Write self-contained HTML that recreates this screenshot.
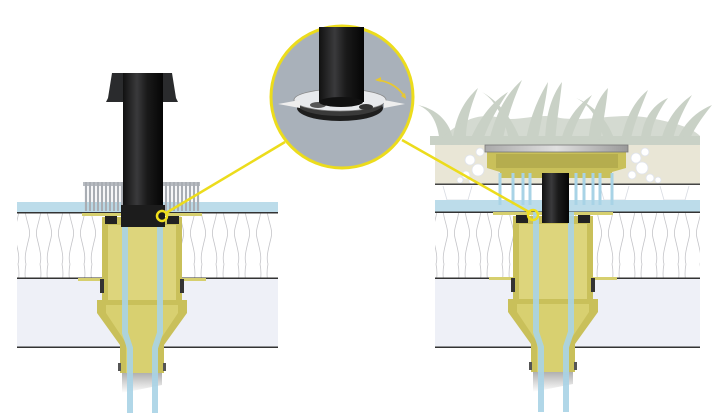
<!DOCTYPE html>
<html><head><meta charset="utf-8"><style>
html,body{margin:0;padding:0;background:#fff;width:728px;height:413px;overflow:hidden}
svg{display:block}
</style></head><body>
<svg width="728" height="413" viewBox="0 0 728 413" xmlns="http://www.w3.org/2000/svg">
<defs>
<linearGradient id="pipe" x1="0" x2="1"><stop offset="0" stop-color="#111"/><stop offset="0.35" stop-color="#3a3a3c"/><stop offset="0.6" stop-color="#1a1a1a"/><stop offset="1" stop-color="#050505"/></linearGradient>
<linearGradient id="grey" x1="0" x2="1"><stop offset="0" stop-color="#aaa"/><stop offset="0.5" stop-color="#e0e0e0"/><stop offset="1" stop-color="#999"/></linearGradient>
<linearGradient id="fade" x1="0" y1="0" x2="0" y2="1"><stop offset="0" stop-color="#b0b0b0"/><stop offset="1" stop-color="#fff"/></linearGradient>
<pattern id="ins" width="22" height="66" patternUnits="userSpaceOnUse">
<path d="M4 0 C0 20,10 28,7 40 C4 52,2 60,4 66 M18 0 C22 20,12 28,15 40 C18 52,20 60,18 66" fill="none" stroke="#c4c4c8" stroke-width="0.8"/>
</pattern>
<g id="drain">
<rect x="-60" y="0" width="120" height="3" fill="#d6cf6e"/>
<rect x="-64" y="65" width="128" height="3" fill="#d6cf6e"/>
<path d="M-40 4 L40 4 L40 89 L-40 89 Z" fill="#c9c05a"/>
<rect x="-34" y="12" width="68" height="77" fill="#ddd57c"/>
<path d="M-45 87 L45 87 L45 100 L22 132 L22 160 L-22 160 L-22 132 L-45 100 Z" fill="#c9c05a"/>
<path d="M-36 92 L36 92 L36 100 L16 130 L16 160 L-16 160 L-16 130 L-36 100 Z" fill="#d8d070"/>
<rect x="-37" y="3" width="12" height="8" fill="#222"/>
<rect x="25" y="3" width="12" height="8" fill="#222"/>
<rect x="-42" y="66" width="4" height="14" fill="#333"/>
<rect x="38" y="66" width="4" height="14" fill="#333"/>
<rect x="-24" y="150" width="3" height="8" fill="#555"/>
<rect x="21" y="150" width="3" height="8" fill="#555"/>
<path d="M-20 160 L20 160 L20 172 L-20 180 Z" fill="url(#fade)"/>
<path d="M-17 0 L-17 120 L-12 135 L-12 200" stroke="#a8d3e6" stroke-width="6" fill="none" opacity="0.9"/>
<path d="M18 0 L18 120 L13 135 L13 200" stroke="#a8d3e6" stroke-width="6" fill="none" opacity="0.9"/>
</g>
</defs>

<!-- LEFT -->
<rect x="17" y="202" width="261" height="11" fill="#bcdcea"/>
<rect x="17" y="213" width="261" height="65" fill="#fff"/>
<rect x="17" y="213" width="261" height="65" fill="url(#ins)"/>
<rect x="17" y="278" width="261" height="69" fill="#eef0f7"/>
<rect x="17" y="212" width="261" height="1.5" fill="#333"/>
<rect x="17" y="277.5" width="261" height="1.5" fill="#333"/>
<rect x="17" y="346.5" width="261" height="1.5" fill="#333"/>
<rect x="83" y="182" width="117" height="4" fill="#b8bcc2"/>
<g stroke="#a9adb3" stroke-width="2.2">
<path d="M86 182V211M90 182V211M94 182V211M98 182V211M102 182V211M106 182V211M110 182V211M114 182V211M118 182V211M122 182V211M162 182V211M166 182V211M170 182V211M174 182V211M178 182V211M182 182V211M186 182V211M190 182V211M194 182V211M198 182V211"/>
</g>
<use href="#drain" x="142" y="213"/>
<path d="M112 73 L172 73 L176 98 L178 102 L106 102 L108 98 Z" fill="#2a2b2d"/>
<rect x="123" y="73" width="40" height="154" fill="url(#pipe)"/>
<rect x="121" y="205" width="44" height="22" fill="#1c1c1c"/>
<circle cx="162" cy="216" r="5" fill="none" stroke="#f0e01c" stroke-width="2.5"/>
<line x1="166" y1="213" x2="285" y2="142" stroke="#ecdc1c" stroke-width="2.5"/>

<!-- RIGHT -->
<g fill="#c9d1c6">
<path d="M440 145 C438 120,430 110,418 105 C440 110,452 125,454 145Z"/>
<path d="M452 145 C455 115,465 100,478 88 C470 108,465 125,466 145Z"/>
<path d="M468 145 C480 115,495 100,508 92 C495 112,485 130,482 145Z"/>
<path d="M488 145 C495 115,505 95,522 80 C512 102,505 125,502 145Z"/>
<path d="M510 145 C505 118,495 100,482 92 C500 102,515 122,522 145Z"/>
<path d="M525 145 C530 115,540 95,548 82 C546 102,540 125,537 145Z"/>
<path d="M545 145 C545 115,552 95,562 82 C560 102,556 125,555 145Z"/>
<path d="M560 145 C565 120,578 105,592 95 C582 112,572 130,570 145Z"/>
<path d="M588 145 C590 115,598 98,608 88 C606 108,602 128,600 145Z"/>
<path d="M605 145 C600 120,590 105,576 98 C595 106,610 122,616 145Z"/>
<path d="M620 145 C625 118,635 100,648 90 C640 110,632 128,630 145Z"/>
<path d="M640 145 C642 120,652 105,668 98 C656 114,650 130,650 145Z"/>
<path d="M660 145 C665 120,678 105,692 95 C682 112,674 130,672 145Z"/>
<path d="M675 145 C682 125,695 112,712 105 C700 120,690 135,688 145Z"/>
<path d="M430 145 L700 145 L700 136 L430 136Z"/>
<path d="M440 140 C460 120,480 112,500 118 C520 122,540 112,560 118 C590 122,620 112,650 118 C670 122,690 126,700 136 L440 145Z" opacity="0.8"/>
</g>
<rect x="435" y="145" width="265" height="39" fill="#e9e6d6"/>
<g fill="#fff" stroke="#dfe3ec" stroke-width="0.8">
<circle cx="470" cy="160" r="5"/><circle cx="478" cy="170" r="6"/><circle cx="466" cy="175" r="4"/><circle cx="480" cy="152" r="4"/><circle cx="472" cy="181" r="3"/><circle cx="460" cy="180" r="3"/>
<circle cx="636" cy="158" r="5"/><circle cx="642" cy="168" r="6"/><circle cx="632" cy="175" r="4"/><circle cx="645" cy="152" r="4"/><circle cx="650" cy="178" r="4"/><circle cx="658" cy="180" r="3"/>
</g>
<rect x="435" y="184" width="265" height="18" fill="#fff"/>
<rect x="435" y="183.5" width="265" height="1.5" fill="#444"/>
<g fill="none" stroke="#d8dbe2" stroke-width="0.8">
<path d="M443 186 L447 200 L468 200 L472 186"/><path d="M600 186 L604 200 L625 200 L629 186"/><path d="M660 186 L664 200 L685 200 L689 186"/>
</g>
<rect x="435" y="200" width="265" height="12" fill="#bcdcea"/>
<rect x="435" y="212" width="265" height="66" fill="#fff"/>
<rect x="435" y="212" width="265" height="66" fill="url(#ins)"/>
<rect x="435" y="278" width="265" height="69" fill="#eef0f7"/>
<rect x="435" y="211.5" width="265" height="1.5" fill="#333"/>
<rect x="435" y="277.5" width="265" height="1.5" fill="#333"/>
<rect x="435" y="346.5" width="265" height="1.5" fill="#333"/>
<use href="#drain" x="553" y="212"/>
<path d="M487 148 L626 148 L626 168 L612 172 L612 178 L500 178 L500 172 L487 168Z" fill="#c9c05a"/>
<rect x="496" y="154" width="122" height="14" fill="#b5ad4e"/>
<rect x="485" y="145" width="143" height="7" fill="url(#grey)" stroke="#777" stroke-width="0.8"/>
<g stroke="#a8d3e6" stroke-width="3">
<path d="M500 173V205M513 173V205M523 173V205M530 173V205M576 173V205M584 173V205M593 173V205M600 173V205M612 173V205"/>
</g>
<rect x="542" y="173" width="27" height="50" fill="url(#pipe)"/>
<circle cx="533" cy="215" r="5" fill="none" stroke="#f0e01c" stroke-width="2.5"/>
<line x1="529" y1="212" x2="402" y2="140" stroke="#ecdc1c" stroke-width="2.5"/>

<!-- DETAIL CIRCLE -->
<circle cx="342" cy="97" r="71" fill="#a9b1ba" stroke="#ecdc1c" stroke-width="3"/>
<ellipse cx="340" cy="108" rx="43" ry="13" fill="#1e1e1e"/>
<ellipse cx="340" cy="104" rx="43" ry="12" fill="#3a3a3a"/>
<ellipse cx="340" cy="100" rx="46" ry="11" fill="#e7e9ec" stroke="#888" stroke-width="0.8"/>
<path d="M278 104 L300 100 L300 108Z" fill="#eee"/>
<path d="M405 104 L384 100 L384 108Z" fill="#eee"/>
<ellipse cx="318" cy="105" rx="8" ry="3" fill="#555"/>
<ellipse cx="366" cy="107" rx="7" ry="3" fill="#333"/>
<rect x="319" y="27" width="45" height="75" fill="url(#pipe)"/>
<ellipse cx="341" cy="102" rx="22" ry="5" fill="#111"/>
<path d="M377 80 Q395 82 405 97" fill="none" stroke="#e8c830" stroke-width="1.8"/>
<path d="M375 80 l6 -3 l0 5z M406 99 l-5 -3 l4 -3z" fill="#e8c830"/>
</svg>
</body></html>
